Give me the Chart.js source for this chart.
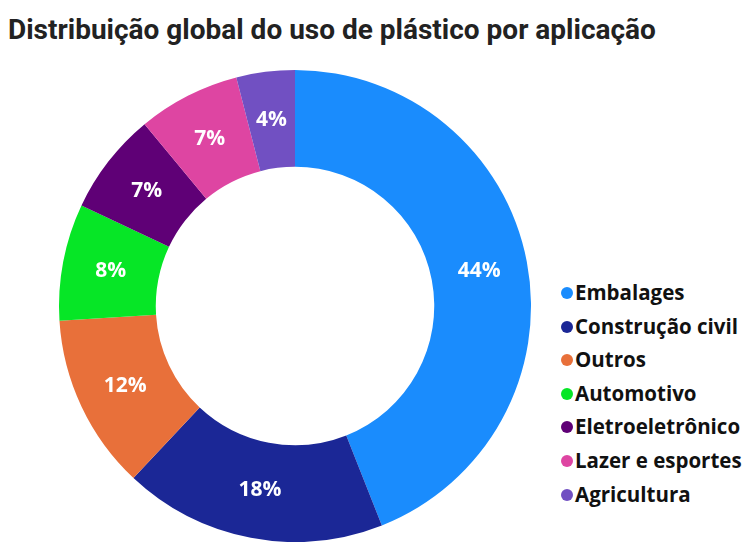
<!DOCTYPE html>
<html>
<head>
<meta charset="utf-8">
<script src="https://cdn.jsdelivr.net/npm/chart.js"></script>
<style>
  html, body { margin: 0; padding: 0; background: #fff; }
  body { width: 755px; height: 554px; position: relative; overflow: hidden; }
  #title {
    position: absolute; left: 8px; top: 13px;
    font-family: "Liberation Sans Narrow", "Roboto", sans-serif;
    font-weight: bold; font-size: 28px; color: #222; white-space: nowrap;
  }
  #chart-box { position: absolute; left: 57px; top: 70px; width: 476px; height: 472px; }
  #legend {
    position: absolute; left: 561px; top: 277px; margin: 0; padding: 0; list-style: none;
    font-family: "Open Sans", sans-serif; font-weight: bold; font-size: 20.5px; color: #111;
  }
  #legend li { height: 33.6px; line-height: 30px; white-space: nowrap; }
  #legend span {
    display: inline-block; width: 12px; height: 12px; border-radius: 50%;
    margin-right: 2px; vertical-align: 1px;
  }
</style>
</head>
<body>
<div id="title">Distribuição global do uso de plástico por aplicação</div>
<div id="chart-box"><canvas id="plastic-chart"></canvas></div>
<ul id="legend"></ul>
<script>
// Share of plastic use per application, in percent
const categories = ['Embalages', 'Construção civil', 'Outros', 'Automotivo', 'Eletroeletrônico', 'Lazer e esportes', 'Agricultura'];
const shares = [44, 18, 12, 8, 7, 7, 4];
const sliceColors = ['#1a8cfd', '#1b2796', '#e8703a', '#06e626', '#5f0076', '#de45a2', '#7150c2'];

// Percent text on each slice, centred in the ring
const sliceLabels = {
  id: 'sliceLabels',
  afterDatasetsDraw(chart) {
    const ctx = chart.ctx;
    const meta = chart.getDatasetMeta(0);
    ctx.save();
    ctx.font = 'bold 21px "Open Sans", sans-serif';
    ctx.fillStyle = '#fff';
    ctx.textAlign = 'center';
    ctx.textBaseline = 'middle';
    meta.data.forEach((arc, i) => {
      const p = arc.getCenterPoint();
      ctx.fillText(shares[i] + '%', p.x, p.y);
    });
    ctx.restore();
  }
};

new Chart(document.getElementById('plastic-chart'), {
  type: 'doughnut',
  data: {
    labels: categories,
    datasets: [{
      data: shares,
      backgroundColor: sliceColors,
      borderWidth: 0,
      hoverOffset: 0
    }]
  },
  options: {
    responsive: true,
    maintainAspectRatio: false,
    animation: false,
    cutout: '59%',
    layout: { padding: 0 },
    plugins: {
      legend: { display: false },
      tooltip: { enabled: false }
    }
  },
  plugins: [sliceLabels]
});

// legend list on the right
const legendEl = document.getElementById('legend');
categories.forEach((name, i) => {
  const li = document.createElement('li');
  li.innerHTML = '<span style="background:' + sliceColors[i] + '"></span>' + name;
  legendEl.appendChild(li);
});
</script>
</body>
</html>
